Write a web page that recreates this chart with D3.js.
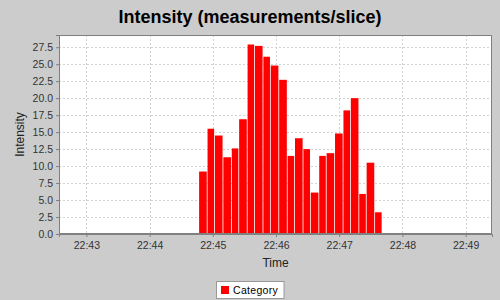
<!DOCTYPE html>
<html>
<head>
<meta charset="utf-8">
<script src="https://cdn.jsdelivr.net/npm/d3@7"></script>
<style>
  body { margin: 0; background: #cccccc; }
  svg { display: block; font-family: "Liberation Sans", Arial, sans-serif; }
  .grid line { stroke: #d2d2d2; stroke-dasharray: 2,2; stroke-width: 1; }
  .tick text { fill: #333; }
</style>
</head>
<body>
<div id="chart"></div>
<script>
// start time of each slice
const sliceTimes = [
  "22:44:47", "22:44:55", "22:45:02", "22:45:10", "22:45:18", "22:45:25",
  "22:45:33", "22:45:40", "22:45:48", "22:45:55", "22:46:03", "22:46:11",
  "22:46:18", "22:46:26", "22:46:33", "22:46:41", "22:46:48", "22:46:56",
  "22:47:04", "22:47:11", "22:47:19", "22:47:26", "22:47:34"
]
const sliceEnd = "22:47:41"
const intensity = [
  9.2, 15.5, 14.5, 11.3, 12.6, 16.9,
  27.9, 27.7, 26.1, 24.8, 22.7, 11.5,
  14.1, 12.5, 6.1, 11.5, 11.9, 14.8,
  18.2, 20.0, 5.9, 10.5, 3.2
]
const xRange = ["22:42:34", "22:49:25"]
const yTicks = [0, 2.5, 5, 7.5, 10, 12.5, 15, 17.5, 20, 22.5, 25, 27.5]
const yMax = 29.3
const seriesName = "Category"

const width = 500
const height = 300
const margin = {top: 35, right: 8, bottom: 66, left: 59}
const plotW = width - margin.left - margin.right
const plotH = height - margin.top - margin.bottom

const parseTime = d3.timeParse("%H:%M:%S")
const starts = sliceTimes.map(parseTime)
const bounds = starts.concat([parseTime(sliceEnd)])
const data = intensity.map((v, i) => ({start: bounds[i], end: bounds[i + 1], value: v}))

const xScale = d3.scaleTime().domain(xRange.map(parseTime)).range([0, plotW])
const yScale = d3.scaleLinear().domain([0, yMax]).range([plotH, 0])
const xTicks = d3.timeMinute.range(xScale.domain()[0], xScale.domain()[1])

const svg = d3.select("#chart").append("svg")
  .attr("width", width)
  .attr("height", height)

svg.append("rect")
  .attr("width", width).attr("height", height)
  .attr("fill", "#cccccc")

svg.append("text")
  .attr("x", width / 2)
  .attr("y", 23)
  .attr("text-anchor", "middle")
  .attr("font-size", 18)
  .attr("font-weight", "bold")
  .attr("fill", "#000")
  .text("Intensity (measurements/slice)")

const g = svg.append("g")
  .attr("transform", `translate(${margin.left}, ${margin.top})`)

g.append("rect")
  .attr("width", plotW).attr("height", plotH)
  .attr("fill", "#fff")

// gridlines
const grid = g.append("g").attr("class", "grid")
grid.selectAll(".hgrid")
  .data(yTicks.filter(d => d > 0))
  .enter().append("line")
  .attr("class", "hgrid")
  .attr("x1", 0).attr("x2", plotW)
  .attr("y1", d => Math.round(yScale(d)) + 0.5)
  .attr("y2", d => Math.round(yScale(d)) + 0.5)
grid.selectAll(".vgrid")
  .data(xTicks)
  .enter().append("line")
  .attr("class", "vgrid")
  .attr("y1", 0).attr("y2", plotH)
  .attr("x1", d => Math.round(xScale(d)) + 0.5)
  .attr("x2", d => Math.round(xScale(d)) + 0.5)

// bars
g.append("g").selectAll(".bar")
  .data(data)
  .enter().append("rect")
  .attr("class", "bar")
  .attr("x", d => xScale(d.start))
  .attr("width", d => xScale(d.end) - xScale(d.start) - 0.8)
  .attr("y", d => yScale(d.value))
  .attr("height", d => plotH - yScale(d.value))
  .attr("fill", "#ff0000")

// plot outline
g.append("rect")
  .attr("x", 0.5).attr("y", 0.5)
  .attr("width", plotW - 1).attr("height", plotH - 1)
  .attr("fill", "none")
  .attr("stroke", "#808080")

// axes
const yAxis = g.append("g")
  .call(d3.axisLeft(yScale).tickValues(yTicks).tickFormat(d3.format(".1f")).tickSize(3).tickPadding(3))
yAxis.select(".domain").attr("stroke", "#808080")
yAxis.selectAll(".tick line").attr("stroke", "#808080")
yAxis.selectAll(".tick text").attr("font-size", 10.5).attr("font-family", "Liberation Sans, Arial, sans-serif")

const xAxis = g.append("g")
  .attr("transform", `translate(0, ${plotH})`)
  .call(d3.axisBottom(xScale).tickValues(xTicks).tickFormat(d3.timeFormat("%H:%M")).tickSize(3).tickPadding(5))
xAxis.select(".domain").attr("stroke", "#808080")
xAxis.selectAll(".tick line").attr("stroke", "#808080")
xAxis.selectAll(".tick text").attr("font-size", 10.5).attr("font-family", "Liberation Sans, Arial, sans-serif")

// axis titles
svg.append("text")
  .attr("x", margin.left + plotW / 2)
  .attr("y", 266.5)
  .attr("text-anchor", "middle")
  .attr("font-size", 12)
  .attr("fill", "#222")
  .text("Time")

svg.append("text")
  .attr("transform", `translate(24, ${margin.top + plotH / 2}) rotate(-90)`)
  .attr("text-anchor", "middle")
  .attr("font-size", 12)
  .attr("fill", "#222")
  .text("Intensity")

// legend
const legend = svg.append("g").attr("class", "legend")
const legendBox = legend.append("rect")
  .attr("fill", "#fff")
  .attr("stroke", "#999")
legend.append("rect")
  .attr("x", 4.5).attr("y", 4.5)
  .attr("width", 8).attr("height", 8)
  .attr("fill", "#ff0000")
const legendText = legend.append("text")
  .attr("x", 16.5)
  .attr("y", 12.5)
  .attr("font-size", 10.5)
  .attr("letter-spacing", 0.3)
  .attr("fill", "#000")
  .text(seriesName)
const lw = 16.5 + legendText.node().getComputedTextLength() + 6
legendBox.attr("x", 0).attr("y", 0).attr("width", lw).attr("height", 17)
legend.attr("transform", `translate(${Math.round(width / 2 - lw / 2) + 0.5}, 281.5)`)
</script>
</body>
</html>
